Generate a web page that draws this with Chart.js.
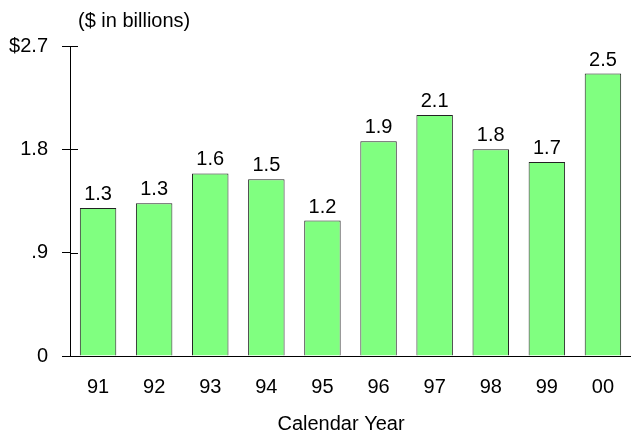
<!DOCTYPE html>
<html>
<head>
<meta charset="utf-8">
<script src="https://cdn.jsdelivr.net/npm/chart.js@4/dist/chart.umd.min.js"></script>
<style>
  html, body { margin: 0; padding: 0; background: #fff; }
  #wrap { width: 631px; height: 433px; }
</style>
</head>
<body>
<div id="wrap"><canvas id="chart" width="631" height="433"></canvas></div>
<script>
// ── Data ────────────────────────────────────────────────────────────

const YEARS = ['91', '92', '93', '94', '95', '96', '97', '98', '99', '00'];
const AMOUNTS = [1.29, 1.33, 1.59, 1.54, 1.18, 1.87, 2.10, 1.80, 1.69, 2.46];
const Y_TICKS = [0, 0.9, 1.8, 2.7];
const Y_TICK_LABELS = ['0', '.9', '1.8', '$2.7'];
const UNIT_CAPTION = '($ in billions)';
const X_CAPTION = 'Calendar Year';

const FONT = '"Liberation Sans", Arial, Helvetica, sans-serif';

// ── Plugins ─────────────────────────────────────────────────────────

// value printed above each bar
const barValuePlugin = {
  id: 'barValues',
  afterDatasetsDraw(chart) {
    const ctx = chart.ctx;
    const meta = chart.getDatasetMeta(0);
    ctx.save();
    ctx.font = `20px ${FONT}`;
    ctx.fillStyle = '#000';
    ctx.textAlign = 'center';
    ctx.textBaseline = 'alphabetic';
    meta.data.forEach((bar, i) => {
      ctx.fillText(AMOUNTS[i].toFixed(1), bar.x, bar.y - 8);
    });
    ctx.restore();
  }
};

// short right-hand half of the y tick marks, plus the two captions
const axisExtrasPlugin = {
  id: 'axisExtras',
  afterDraw(chart) {
    const ctx = chart.ctx;
    const y = chart.scales.y;
    const left = chart.chartArea.left;
    ctx.save();
    ctx.strokeStyle = '#000';
    ctx.lineWidth = 1;
    Y_TICKS.forEach(v => {
      const py = Math.round(y.getPixelForValue(v)) + 0.5;
      ctx.beginPath();
      ctx.moveTo(left, py);
      ctx.lineTo(left + 8, py);
      ctx.stroke();
    });
    ctx.font = `20px ${FONT}`;
    ctx.fillStyle = '#000';
    ctx.textBaseline = 'alphabetic';
    ctx.textAlign = 'left';
    ctx.fillText(UNIT_CAPTION, 78, 27);
    ctx.textAlign = 'center';
    ctx.fillText(X_CAPTION, 341, 430);
    ctx.restore();
  }
};

// ── Chart ───────────────────────────────────────────────────────────

new Chart(document.getElementById('chart'), {
  type: 'bar',
  data: {
    labels: YEARS,
    datasets: [{
      data: AMOUNTS,
      backgroundColor: '#80ff80',
      borderColor: '#222',
      borderWidth: 1,
      borderSkipped: 'bottom',
      categoryPercentage: 1,
      barPercentage: 0.65,
    }]
  },
  options: {
    responsive: false,
    animation: false,
    layout: { padding: { top: 46, right: 0, left: 0, bottom: 0 } },
    plugins: {
      legend: { display: false },
      tooltip: { enabled: false },
    },
    scales: {
      x: {
        grid: { display: false },
        border: { display: true, color: '#000', width: 1 },
        ticks: {
          color: '#000',
          font: { family: FONT, size: 20 },
          padding: 11,
          maxRotation: 0,
        },
        afterFit(scale) { scale.height = 77; },
      },
      y: {
        min: 0,
        max: 2.7,
        afterBuildTicks(scale) {
          scale.ticks = Y_TICKS.map(v => ({ value: v }));
        },
        grid: {
          drawOnChartArea: false,
          color: '#000',
          tickLength: 8,
        },
        border: { display: true, color: '#000', width: 1 },
        ticks: {
          color: '#000',
          font: { family: FONT, size: 20 },
          padding: 14,
          callback: (v, i) => Y_TICK_LABELS[i],
        },
        afterFit(scale) { scale.width = 70; },
      },
    },
  },
  plugins: [barValuePlugin, axisExtrasPlugin],
});
</script>
</body>
</html>
